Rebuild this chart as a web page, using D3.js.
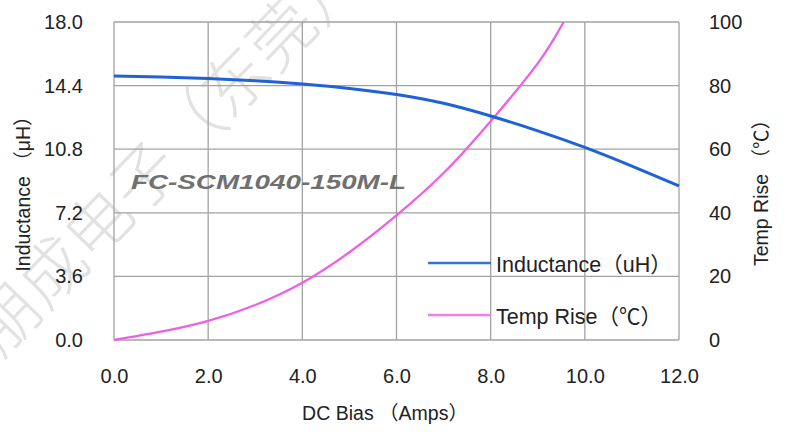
<!DOCTYPE html>
<html>
<head>
<meta charset="utf-8">
<script src="https://cdn.jsdelivr.net/npm/d3@7/dist/d3.min.js"></script>
<style>
  body { margin: 0; background: #fff; }
  text { font-family: "Liberation Sans", Arial, "Noto Sans CJK SC", sans-serif; fill: #222; }
</style>
</head>
<body>
<div id="chart"></div>
<script>
(function(){
	// data
	var bias = [0, 1, 2, 3, 4, 5, 6, 7, 8, 9, 10, 11, 12];
	var inductance = [14.95, 14.89, 14.80, 14.67, 14.49, 14.24, 13.9, 13.4, 12.68, 11.84, 10.9, 9.84, 8.72];
	var tempBias = [0, 1, 2, 3, 4, 5, 6, 7, 8, 9, 9.55];
	var tempRise = [0, 2.6, 6.0, 11.0, 18.0, 27.6, 39.2, 52.5, 68.8, 87, 100];
	var xTicks = [0, 2, 4, 6, 8, 10, 12];
	var yLeftTicks = [0, 3.6, 7.2, 10.8, 14.4, 18.0];
	var yRightTicks = [0, 20, 40, 60, 80, 100];
	var modelName = "FC-SCM1040-150M-L";

	var W = 789, H = 434;
	var left = 114, right = 679, top = 22, bottom = 340;

	var svg = d3.select("#chart").append("svg")
		.attr("width", W).attr("height", H);

	var x = d3.scaleLinear().domain([0, 12]).range([left, right]);
	var yL = d3.scaleLinear().domain([0, 18]).range([bottom, top]);
	var yR = d3.scaleLinear().domain([0, 100]).range([bottom, top]);

	// watermark (cut by the left/top edges, as in the source)
	svg.append("text")
		.attr("transform", "translate(-20,339) rotate(-46)")
		.attr("dominant-baseline", "central")
		.style("font-family", "'Noto Sans CJK SC', sans-serif")
		.style("font-size", "66px")
		.style("font-weight", 300)
		.style("fill", "#e2e2e2")
		.text("朋成电子（东莞）");

	// grid
	var grid = svg.append("g").attr("class", "grid");
	grid.selectAll("line.v").data(xTicks).enter().append("line")
		.attr("x1", function(d){ return x(d); })
		.attr("x2", function(d){ return x(d); })
		.attr("y1", top).attr("y2", bottom);
	grid.selectAll("line.h").data(yLeftTicks).enter().append("line")
		.attr("x1", left).attr("x2", right)
		.attr("y1", function(d){ return yL(d); })
		.attr("y2", function(d){ return yL(d); });
	grid.selectAll("line")
		.attr("stroke", "#a2a2a2")
		.attr("stroke-width", 1.3);

	// axes (labels only)
	var axL = svg.append("g")
		.attr("transform", "translate(" + (left - 28) + ",0)")
		.call(d3.axisLeft(yL).tickValues(yLeftTicks).tickFormat(d3.format(".1f")).tickSize(0));
	var axR = svg.append("g")
		.attr("transform", "translate(" + (right + 27) + ",0)")
		.call(d3.axisRight(yR).tickValues(yRightTicks).tickFormat(d3.format("d")).tickSize(0));
	var axB = svg.append("g")
		.attr("transform", "translate(0," + (bottom + 26) + ")")
		.call(d3.axisBottom(x).tickValues(xTicks).tickFormat(d3.format(".1f")).tickSize(0));
	[axL, axR, axB].forEach(function(a){
		a.select(".domain").remove();
		a.selectAll("text")
			.style("font-family", "'Liberation Sans', Arial, sans-serif")
			.style("font-size", "20px")
			.style("fill", "#222");
	});

	// model name
	svg.append("text")
		.attr("x", 131).attr("y", 189)
		.attr("textLength", 275)
		.attr("lengthAdjust", "spacingAndGlyphs")
		.style("font-size", "21px")
		.style("font-weight", "bold")
		.style("font-style", "italic")
		.style("fill", "#707070")
		.text(modelName);

	// curves
	var lineL = d3.line()
		.x(function(d, i){ return x(bias[i]); })
		.y(function(d){ return yL(d); })
		.curve(d3.curveNatural);
	var lineR = d3.line()
		.x(function(d, i){ return x(tempBias[i]); })
		.y(function(d){ return yR(d); })
		.curve(d3.curveNatural);

	svg.append("path").datum(tempRise)
		.attr("d", lineR)
		.attr("fill", "none")
		.attr("stroke", "#ee5fe4")
		.attr("stroke-width", 2.3);
	svg.append("path").datum(inductance)
		.attr("d", lineL)
		.attr("fill", "none")
		.attr("stroke", "#1f62d8")
		.attr("stroke-width", 3);

	// legend
	var legend = [
		{label: "Inductance（uH）", color: "#3473dc", y: 263},
		{label: "Temp Rise（℃）", color: "#f07ee4", y: 315}
	];
	var lg = svg.selectAll("g.legend").data(legend).enter().append("g");
	lg.append("line")
		.attr("x1", 428).attr("x2", 491)
		.attr("y1", function(d){ return d.y; })
		.attr("y2", function(d){ return d.y; })
		.attr("stroke", function(d){ return d.color; })
		.attr("stroke-width", 2.5);
	lg.append("text")
		.attr("x", 496)
		.attr("y", function(d){ return d.y + 2; })
		.attr("dominant-baseline", "central")
		.style("font-size", "21.5px")
		.text(function(d){ return d.label; });

	// axis titles
	svg.append("text")
		.attr("x", 385).attr("y", 420)
		.attr("text-anchor", "middle")
		.style("font-size", "19.5px")
		.text("DC Bias （Amps）");
	svg.append("text")
		.attr("transform", "translate(23,189) rotate(-90)")
		.attr("text-anchor", "middle")
		.attr("dominant-baseline", "central")
		.style("font-size", "19.5px")
		.text("Inductance （μH）");
	svg.append("text")
		.attr("transform", "translate(761,188) rotate(-90)")
		.attr("text-anchor", "middle")
		.attr("dominant-baseline", "central")
		.style("font-size", "19.5px")
		.text("Temp Rise （℃）");
})();
</script>
</body>
</html>
